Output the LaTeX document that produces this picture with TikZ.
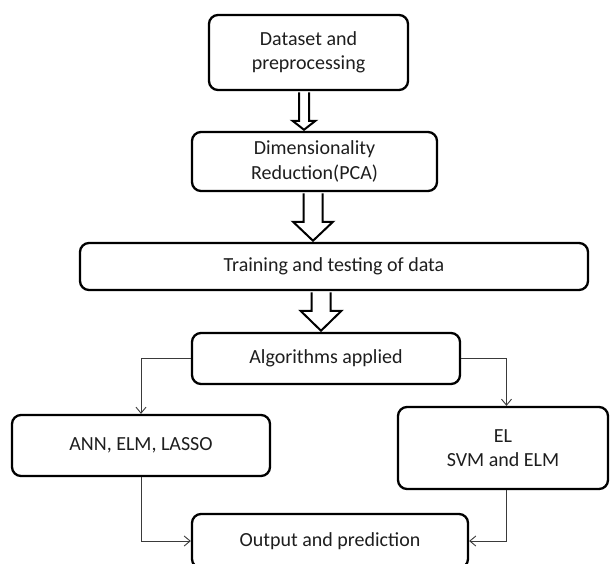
\documentclass[tikz,border=0pt]{standalone}
\usepackage{fontspec}
\setmainfont{Carlito}
\usetikzlibrary{calc,arrows.meta}
\definecolor{txt}{HTML}{1E1E1E}
\definecolor{conncol}{HTML}{3A3A3A}
\newcommand\blockarr[5]{%
  \draw[barrow] let \p1=(#1), \p2=(#2) in
    (\x2-#3pt,\y1) -- (\x2-#3pt,\y2+#5pt) -- (\x2-#4pt,\y2+#5pt) -- (\x2,\y2)
    -- (\x2+#4pt,\y2+#5pt) -- (\x2+#3pt,\y2+#5pt) -- (\x2+#3pt,\y1);}
\begin{document}
\begin{tikzpicture}[x=1pt,y=-1pt,
  box/.style={draw=black, line width=2.3pt, rounded corners=9pt, fill=white,
    align=center, font=\fontsize{20}{24.5}\selectfont, text=txt, inner sep=0pt},
  barrow/.style={draw=black, line width=2pt, fill=white, line join=miter},
  conn/.style={draw=conncol, line width=0.9pt, -{Straight Barb[length=6pt,width=10pt]}}]
\fill[white] (0,0) rectangle (610,563);
\useasboundingbox (0,0) rectangle (610,563);

\node[box, minimum width=199pt, minimum height=75pt] (b1) at (308.5,52.5) {Dataset and\\preprocessing};
\node[box, minimum width=245pt, minimum height=59pt] (b2) at (314.5,161.5) {Dimensionality\\Reduction(PCA)};
\node[box, minimum width=508pt, minimum height=47pt] (b3) at (334,266.5) {Training and testing of data};
\node[box, minimum width=268pt, minimum height=51pt] (b4) at (326,358.5) {Algorithms applied};
\node[box, minimum width=258pt, minimum height=61pt] (b5) at (141,445.5) {ANN, ELM, LASSO};
\node[box, minimum width=210pt, minimum height=82pt] (b6) at (503,448) {EL\\SVM and ELM};
\node[box, minimum width=276pt, minimum height=54pt] (b7) at (330,541) {Output and prediction};

% block arrows
\coordinate (a1s) at ([xshift=-4.5pt,yshift=-1.1pt]b1.south);
\coordinate (a1e) at ([xshift=-10.5pt,yshift=1.1pt]b2.north);
\blockarr{a1s}{a1e}{5}{11.5}{9}
\coordinate (a2s) at ([xshift=-1.5pt,yshift=-1.1pt]b2.south);
\coordinate (a2e) at ([xshift=-21pt,yshift=1.1pt]b3.north);
\blockarr{a2s}{a2e}{9.5}{20}{19}
\coordinate (a3s) at ([xshift=-13pt,yshift=-1.1pt]b3.south);
\coordinate (a3e) at ([xshift=-5pt,yshift=1.1pt]b4.north);
\blockarr{a3s}{a3e}{9.5}{20.5}{20}

% thin connectors
\draw[conn] (b4.west) -| (b5.north);
\draw[conn] (b4.east) -| ([xshift=3.5pt]b6.north);
\draw[conn] (b5.south) |- (b7.west);
\draw[conn] ([xshift=3.5pt]b6.south) |- (b7.east);
\end{tikzpicture}
\end{document}
